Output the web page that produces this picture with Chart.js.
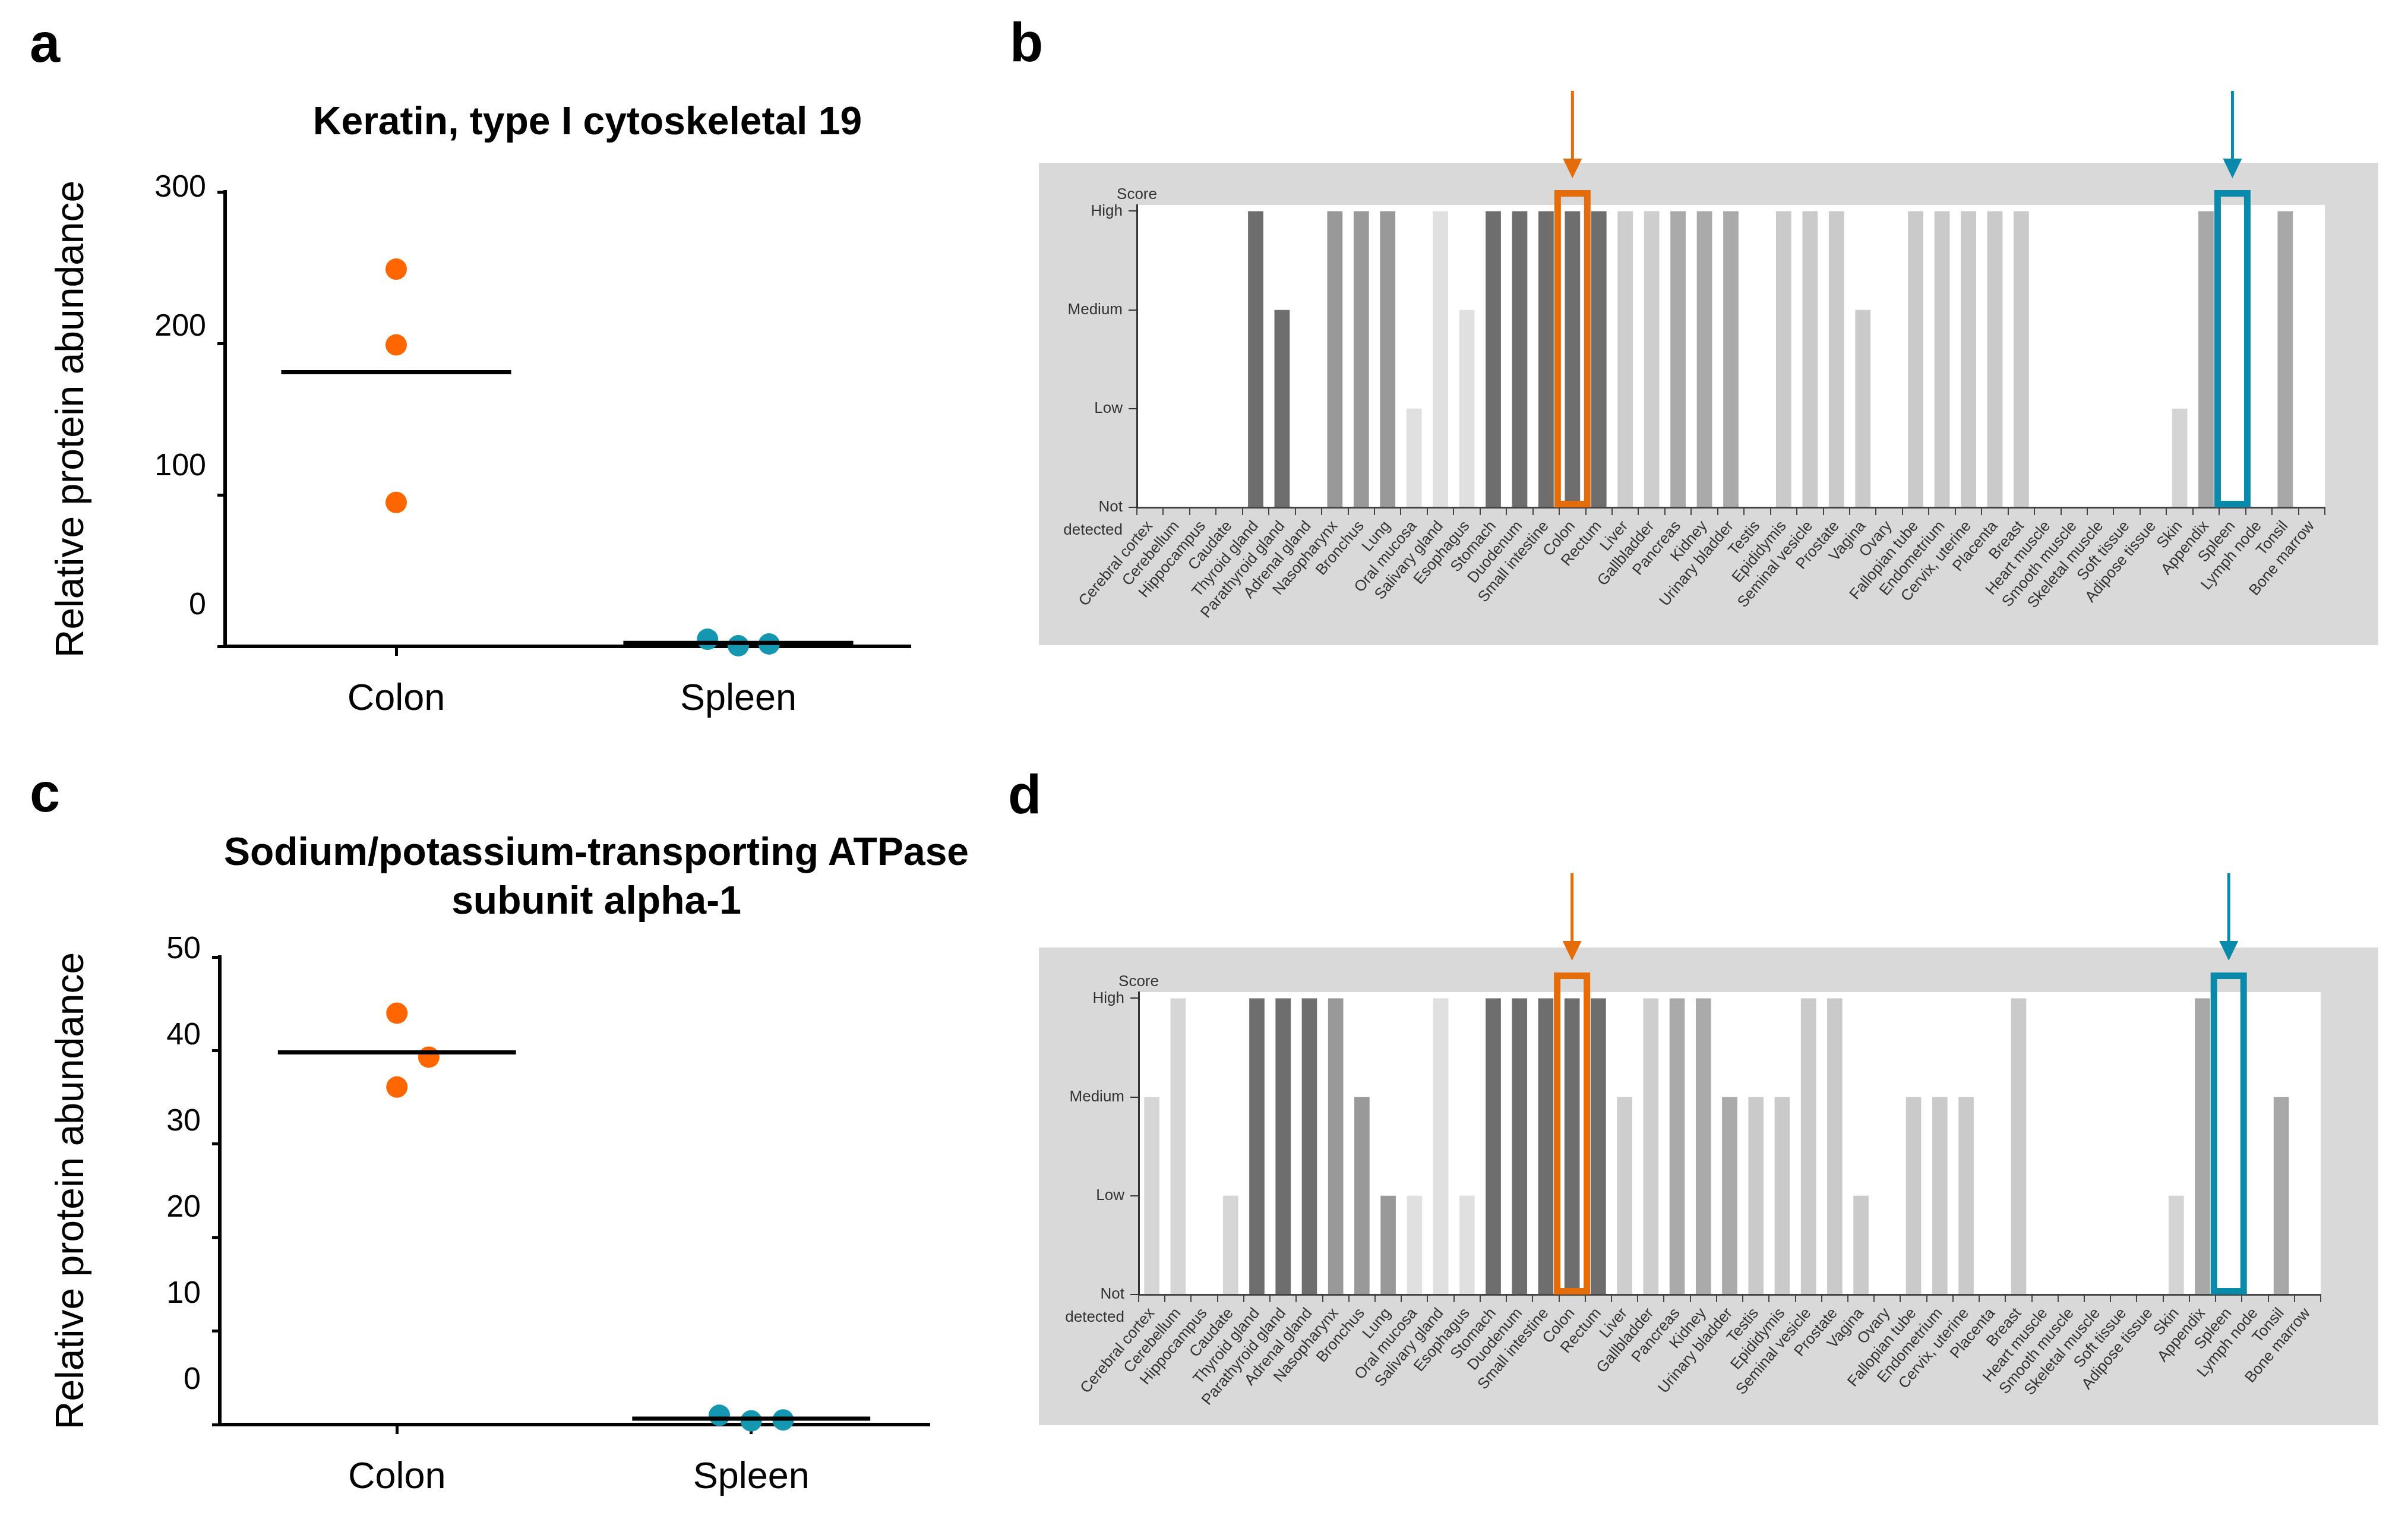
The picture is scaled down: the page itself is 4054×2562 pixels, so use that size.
<!DOCTYPE html>
<html>
<head>
<meta charset="utf-8">
<script src="https://cdn.jsdelivr.net/npm/chart.js@4.4.1/dist/chart.umd.min.js"></script>
<style>
  body { margin: 0; width: 4054px; height: 2562px; background: #fff; position: relative; overflow: hidden;
         font-family: "Liberation Sans", Arial, sans-serif; }
  canvas, .txt { position: absolute; }
  .letter { font-weight: bold; font-size: 92px; line-height: 92px; }
  .title { font-weight: bold; font-size: 66px; text-align: center; white-space: nowrap; }
</style>
</head>
<body>
<div class="txt letter" style="left:50px;top:26px">a</div>
<div class="txt letter" style="left:1700px;top:25px">b</div>
<div class="txt letter" style="left:50px;top:1288px">c</div>
<div class="txt letter" style="left:1697px;top:1291px">d</div>

<div class="txt title" style="left:289px;top:163px;width:1400px;line-height:80px">Keratin, type I cytoskeletal 19</div>
<div class="txt title" style="left:254px;top:1392px;width:1500px;line-height:82px">Sodium/potassium-transporting ATPase<br>subunit alpha-1</div>

<canvas id="chartA" width="1650" height="1050" style="left:0;top:250px"></canvas>
<canvas id="chartB" width="2255" height="946" style="left:1749px;top:140px"></canvas>
<canvas id="chartC" width="1650" height="1020" style="left:0;top:1540px"></canvas>
<canvas id="chartD" width="2255" height="939" style="left:1749px;top:1460px"></canvas>

<script>
// --- data: dot plots (a, c) ---
const groups = ['Colon', 'Spleen'];
const krt19Colon = [249, 199, 95];
const krt19Spleen = [4.7, 0.4, 1.6];
const atp1a1Colon = [44.0, 39.3, 36.1];
const atp1a1Spleen = [1.0, 0.4, 0.5];
// horizontal jitter of the replicate dots (category units)
const jitterKrt19 = [[0, 0, 0], [-0.09, 0, 0.09]];
const jitterAtp1a1 = [[0, 0.09, 0], [-0.09, 0, 0.09]];

// --- data: tissue staining scores (b, d) 0 = not detected ... 3 = high ---
const tissues = ['Cerebral cortex', 'Cerebellum', 'Hippocampus', 'Caudate', 'Thyroid gland',
  'Parathyroid gland', 'Adrenal gland', 'Nasopharynx', 'Bronchus', 'Lung', 'Oral mucosa',
  'Salivary gland', 'Esophagus', 'Stomach', 'Duodenum', 'Small intestine', 'Colon', 'Rectum',
  'Liver', 'Gallbladder', 'Pancreas', 'Kidney', 'Urinary bladder', 'Testis', 'Epididymis',
  'Seminal vesicle', 'Prostate', 'Vagina', 'Ovary', 'Fallopian tube', 'Endometrium',
  'Cervix, uterine', 'Placenta', 'Breast', 'Heart muscle', 'Smooth muscle', 'Skeletal muscle',
  'Soft tissue', 'Adipose tissue', 'Skin', 'Appendix', 'Spleen', 'Lymph node', 'Tonsil', 'Bone marrow'];
const scoreLabels = ['Not', 'Low', 'Medium', 'High'];
const krt19Score = [0, 0, 0, 0, 3, 2, 0, 3, 3, 3, 1, 3, 2, 3, 3, 3, 3, 3, 3, 3, 3, 3, 3,
  0, 3, 3, 3, 2, 0, 3, 3, 3, 3, 3, 0, 0, 0, 0, 0, 1, 3, 0, 0, 3, 0];
const atp1a1Score = [2, 3, 0, 1, 3, 3, 3, 3, 2, 1, 1, 3, 1, 3, 3, 3, 3, 3, 2, 3, 3, 3, 2,
  2, 2, 3, 3, 1, 0, 2, 2, 2, 0, 3, 0, 0, 0, 0, 0, 1, 3, 0, 0, 2, 0];
const highlighted = ['Colon', 'Spleen'];

// styles
const FONT = '"Liberation Sans", Arial, sans-serif';
Chart.defaults.font.family = FONT;
const groupColors = ['#ff6600', '#1597b1'];
const highlightColors = ['#e46c0a', '#0a8aab'];
const tissueShade = [
  '#d6d6d6', '#d6d6d6', '#d6d6d6', '#d6d6d6',
  '#6e6e6e', '#6e6e6e', '#6e6e6e',
  '#999999', '#999999', '#999999',
  '#e0e0e0', '#e0e0e0', '#e0e0e0',
  '#6e6e6e', '#6e6e6e', '#6e6e6e', '#6e6e6e', '#6e6e6e',
  '#cecece', '#cecece',
  '#aaaaaa', '#aaaaaa', '#aaaaaa',
  '#cacaca', '#cacaca', '#cacaca', '#cacaca', '#cacaca', '#cacaca', '#cacaca', '#cacaca',
  '#cacaca', '#cacaca', '#cacaca', '#cacaca', '#cacaca', '#cacaca', '#cacaca', '#cacaca',
  '#d4d4d4',
  '#a8a8a8', '#a8a8a8', '#a8a8a8', '#a8a8a8', '#a8a8a8'];

const mean = arr => arr.reduce((s, v) => s + v, 0) / arr.length;

// y labels of the dot plots sit a little off their tick marks in the original
const squeezedTicks = {
  id: 'squeezedTicks',
  afterDraw(chart, args, o) {
    const y = chart.scales.y, ctx = chart.ctx;
    ctx.save();
    ctx.font = '52px ' + FONT;
    ctx.fillStyle = '#000';
    ctx.textAlign = 'right';
    ctx.textBaseline = 'middle';
    y.ticks.forEach(t => {
      const p = y.getPixelForValue(t.value);
      ctx.fillText(String(t.value), chart.chartArea.left - 32, y.top + (p - y.top) * o.squeeze + o.shift);
    });
    ctx.restore();
  }
};

function dotPlot(id, colon, spleen, jitter, yMax, yStep, pad, yWidth, squeeze) {
  const sets = [colon, spleen];
  const datasets = [];
  sets.forEach((vals, g) => {
    const m = mean(vals);
    datasets.push({
      data: [{ x: g - 0.336, y: m }, { x: g + 0.336, y: m }],
      showLine: true, borderColor: '#000', borderWidth: 7, pointRadius: 0, clip: false
    });
  });
  sets.forEach((vals, g) => {
    datasets.push({
      data: vals.map((v, i) => ({ x: g + jitter[g][i], y: v })),
      backgroundColor: groupColors[g], borderWidth: 0, pointRadius: 18, clip: false
    });
  });
  return new Chart(document.getElementById(id), {
    type: 'scatter',
    data: { datasets },
    plugins: [squeezedTicks],
    options: {
      responsive: false, animation: false, events: [],
      layout: { padding: pad },
      plugins: { legend: { display: false }, tooltip: { enabled: false },
                 squeezedTicks: squeeze },
      scales: {
        x: {
          type: 'linear', min: -0.5, max: 1.5,
          afterBuildTicks: s => { s.ticks = groups.map((_, i) => ({ value: i })); },
          afterFit: s => { s.height = 150; },
          border: { color: '#000', width: 6 },
          grid: { drawOnChartArea: false, color: '#000', lineWidth: 5, tickLength: 16 },
          ticks: { callback: v => groups[v], color: '#000', font: { size: 63 }, padding: 36, maxRotation: 0 }
        },
        y: {
          min: 0, max: yMax,
          ticks: { stepSize: yStep, display: false },
          afterFit: s => { s.width = yWidth; },
          border: { color: '#000', width: 6 },
          grid: { drawOnChartArea: false, color: '#000', lineWidth: 5, tickLength: 13 },
          title: { display: true, text: 'Relative protein abundance', color: '#000',
                   font: { size: 66 }, padding: 0 }
        }
      }
    }
  });
}

// grey panel, white plot area, "Score"/"detected" captions, highlight boxes and arrows
const scorePanel = {
  id: 'scorePanel',
  beforeDraw(chart, args, o) {
    const { ctx, chartArea: ca, width, height } = chart;
    ctx.save();
    ctx.fillStyle = '#d9d9d9';
    ctx.fillRect(0, o.grayTop, width, height - o.grayTop);
    ctx.fillStyle = '#fff';
    ctx.fillRect(ca.left, ca.top, ca.right - ca.left, ca.bottom - ca.top);
    ctx.restore();
  },
  afterDraw(chart, args, o) {
    const { ctx, chartArea: ca } = chart;
    const xs = chart.scales.x, ys = chart.scales.y;
    ctx.save();
    ctx.fillStyle = '#333';
    ctx.font = '26px ' + FONT;
    ctx.textAlign = 'center';
    ctx.textBaseline = 'alphabetic';
    ctx.fillText('Score', ca.left, ca.top - 10);
    ctx.textAlign = 'right';
    ctx.fillText('detected', ca.left - 24, ys.getPixelForValue(0) + 46);

    highlighted.forEach((name, k) => {
      const cx = xs.getPixelForValue(tissues.indexOf(name));
      const top = ca.top - o.boxRise;
      const col = highlightColors[k];
      ctx.strokeStyle = col;
      ctx.lineWidth = 11;
      ctx.strokeRect(cx - 25, top + 5.5, 50, ca.bottom - top - 11);
      const tip = top - 20;
      ctx.fillStyle = col;
      ctx.beginPath();
      ctx.moveTo(cx, tip);
      ctx.lineTo(cx - 16, tip - 33);
      ctx.lineTo(cx + 16, tip - 33);
      ctx.closePath();
      ctx.fill();
      ctx.lineWidth = 5;
      ctx.beginPath();
      ctx.moveTo(cx, tip - 30);
      ctx.lineTo(cx, tip - 147);
      ctx.stroke();
    });
    ctx.restore();
  }
};

function scoreChart(id, scores, pad, yWidth, grayTop, boxRise) {
  return new Chart(document.getElementById(id), {
    type: 'bar',
    data: {
      labels: tissues,
      datasets: [{ data: scores, backgroundColor: tissueShade, borderWidth: 0,
                   barPercentage: 0.58, categoryPercentage: 1 }]
    },
    plugins: [scorePanel],
    options: {
      responsive: false, animation: false, events: [],
      layout: { padding: pad },
      plugins: { legend: { display: false }, tooltip: { enabled: false },
                 scorePanel: { grayTop, boxRise } },
      scales: {
        x: {
          afterFit: s => { s.height = 200; },
          border: { color: '#444', width: 3 },
          grid: { drawOnChartArea: false, color: '#444', lineWidth: 2, tickLength: 13 },
          ticks: { autoSkip: false, minRotation: 50, maxRotation: 50, color: '#333',
                   font: { size: 26 }, padding: 4 }
        },
        y: {
          min: 0, max: 3.063,
          afterBuildTicks: s => { s.ticks = scoreLabels.map((_, i) => ({ value: i })); },
          afterFit: s => { s.width = yWidth; },
          border: { color: '#333', width: 3 },
          grid: { drawOnChartArea: false, color: '#333', lineWidth: 2, tickLength: 14 },
          ticks: { callback: v => scoreLabels[v], color: '#333', font: { size: 26 }, padding: 10 }
        }
      }
    }
  });
}

dotPlot('chartA', krt19Colon, krt19Spleen, jitterKrt19, 300, 100,
  { left: 82, right: 119, top: 73, bottom: 62 }, 297, { squeeze: 0.918, shift: -6 });
dotPlot('chartC', atp1a1Colon, atp1a1Spleen, jitterAtp1a1, 50, 10,
  { left: 82, right: 87, top: 71, bottom: 12 }, 288, { squeeze: 0.921, shift: -12 });
scoreChart('chartB', krt19Score, { left: 0, right: 90, top: 205, bottom: 32 }, 165, 134, 25);
scoreChart('chartD', atp1a1Score, { left: 0, right: 97, top: 210, bottom: 20 }, 168, 135, 33);
</script>
</body>
</html>
